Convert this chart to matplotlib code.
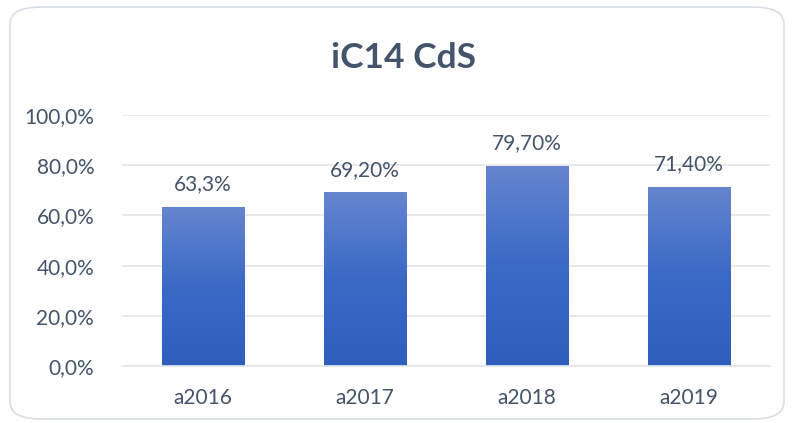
import matplotlib
matplotlib.use("Agg")
import matplotlib.pyplot as plt
import numpy as np
from matplotlib.patches import FancyBboxPatch
from matplotlib.ticker import FuncFormatter
from matplotlib.colors import LinearSegmentedColormap

categories = ["a2016", "a2017", "a2018", "a2019"]
values = [63.3, 69.2, 79.7, 71.4]
value_labels = ["63,3%", "69,20%", "79,70%", "71,40%"]
title = "iC14 CdS"

plt.rcParams['font.family'] = ['Lato', 'DejaVu Sans']
text_color = "#44546A"
tick_color = "#44546A"

fig = plt.figure(figsize=(7.92, 4.23), dpi=100)
fig.patch.set_facecolor("white")

border = FancyBboxPatch((10/792, 4/423), 774/792, 412/423,
                        boxstyle="round,pad=0,rounding_size=0.04",
                        transform=fig.transFigure, facecolor="none",
                        edgecolor="#D9DEE6", linewidth=1.2, zorder=-5)
fig.patches.append(border)

ax = fig.add_axes([122/792, 57/423, 648/792, 251/423])
ax.set_facecolor("none")
x = np.arange(len(categories))
bars = ax.bar(x, values, width=0.51, color="none", zorder=2)

cmap = LinearSegmentedColormap.from_list("g", ["#2F5FBD", "#3A69C6", "#6586CF"])
grad = np.linspace(0, 1, 256).reshape(-1, 1)
for b in bars:
    x0, y0 = b.get_x(), b.get_y()
    w, h = b.get_width(), b.get_height()
    im = ax.imshow(grad, extent=[x0, x0 + w, y0, y0 + h], origin="lower",
                   cmap=cmap, aspect="auto", zorder=2)
    im.set_clip_path(b)

for xi, v, lab in zip(x, values, value_labels):
    ax.text(xi, v + 5, lab, ha="center", va="bottom", fontsize=15, color=tick_color)

ax.set_xlim(-0.5, len(categories) - 0.5)
ax.set_ylim(0, 100)
ax.set_yticks(np.arange(0, 101, 20))
ax.yaxis.set_major_formatter(FuncFormatter(lambda v, p: f"{v:.1f}%".replace(".", ",")))
ax.set_xticks(x)
ax.set_xticklabels(categories)
ax.grid(axis="y", color="#E3E6EA", linewidth=1.2, zorder=0)
ax.set_axisbelow(True)
for s in ["top", "right", "left"]:
    ax.spines[s].set_visible(False)
ax.spines["bottom"].set_color("#E3E6EA")
ax.spines["bottom"].set_linewidth(1.2)
ax.tick_params(axis="both", length=0, labelsize=15, colors=tick_color)
ax.tick_params(axis="x", pad=16)
ax.tick_params(axis="y", pad=20)

fig.text(404/792, 1 - 58/423, title, ha="center", va="center",
         fontsize=25.5, fontweight="bold", color=text_color)

fig.savefig("out.png", dpi=100, facecolor="white")
